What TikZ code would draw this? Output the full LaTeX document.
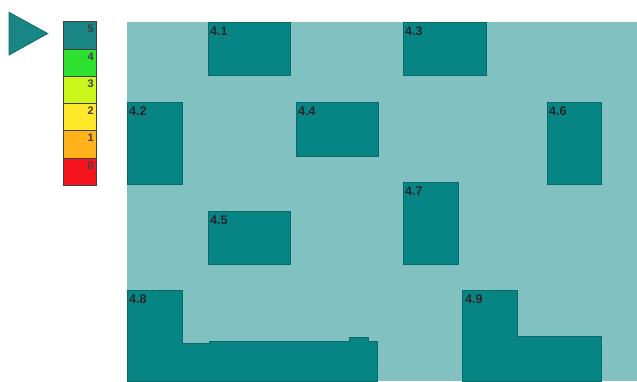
\documentclass[tikz,border=0pt]{standalone}
\usepackage{fontspec}
\setmainfont{Liberation Sans}
\definecolor{panel}{HTML}{82C1C1}
\definecolor{room}{HTML}{078585}
\definecolor{roomedge}{HTML}{0A6A6A}
\definecolor{lv5}{HTML}{1A8585}
\definecolor{lv4}{HTML}{2EE030}
\definecolor{lv3}{HTML}{CCF51A}
\definecolor{lv2}{HTML}{FFE82A}
\definecolor{lv1}{HTML}{FFB21A}
\definecolor{lv0}{HTML}{F5141E}
\begin{document}
\begin{tikzpicture}[x=1pt,y=-1pt,
  roombox/.style={fill=room,draw=roomedge,line width=0.8pt},
  roomlabel/.style={anchor=north west,inner sep=0pt,font=\fontsize{12.5}{12.5}\selectfont\bfseries,text=black!85},
  cell/.style={draw=black!75,line width=1pt},
  celllabel/.style={anchor=north east,inner sep=0pt,font=\fontsize{11}{11}\selectfont\bfseries,text=black!75}]
\useasboundingbox (0,0) rectangle (637,381);
% panel
\fill[panel] (127,22) rectangle (637,381);
% rooms
\draw[roombox] (208,22) rectangle (290,75);
\draw[roombox] (127,102) rectangle (182,184);
\draw[roombox] (403,22) rectangle (486,75);
\draw[roombox] (296,102) rectangle (378,156);
\draw[roombox] (547,102) rectangle (601,184);
\draw[roombox] (208,211) rectangle (290,264);
\draw[roombox] (403,182) rectangle (458,264);
\draw[roombox] (127,290) -- (182,290) -- (182,343.3) -- (209.3,343.3) -- (209.3,341) -- (349,341) -- (349,337.3) -- (368,337.3) -- (368,341) -- (377.7,341) -- (377.7,381) -- (127,381) -- cycle;
\draw[roombox] (462.7,290) -- (517.7,290) -- (517.7,336.7) -- (601,336.7) -- (601,381) -- (462.7,381) -- cycle;
% room labels
\node[roomlabel] (r41) at (210,26.5) {4.1};
\node[roomlabel] (r42) at (129,106.5) {4.2};
\node[roomlabel] (r43) at (405,26.5) {4.3};
\node[roomlabel] (r44) at (298,106.5) {4.4};
\node[roomlabel] (r46) at (549,106.5) {4.6};
\node[roomlabel] (r45) at (210,215.5) {4.5};
\node[roomlabel] (r47) at (405,186.5) {4.7};
\node[roomlabel] (r48) at (129,294.5) {4.8};
\node[roomlabel] (r49) at (465,294.5) {4.9};
% triangle
\draw[fill=lv5,draw=roomedge,line width=0.8pt] (9,12.3) -- (47.7,33.5) -- (9,55) -- cycle;
% legend bar
\draw[cell,fill=lv5] (63.3,21.7) rectangle (96,49);
\draw[cell,fill=lv4] (63.3,49) rectangle (96,76.5);
\draw[cell,fill=lv3] (63.3,76.5) rectangle (96,103.7);
\draw[cell,fill=lv2] (63.3,103.7) rectangle (96,130.7);
\draw[cell,fill=lv1] (63.3,130.7) rectangle (96,158);
\draw[cell,fill=lv0] (63.3,158) rectangle (96,185);
\node[celllabel] (l5) at (94,25) {5};
\node[celllabel] (l4) at (94,52.3) {4};
\node[celllabel] (l3) at (94,79.8) {3};
\node[celllabel] (l2) at (94,107) {2};
\node[celllabel] (l1) at (94,134) {1};
\node[celllabel] (l0) at (94,161.3) {0};
\end{tikzpicture}
\end{document}
